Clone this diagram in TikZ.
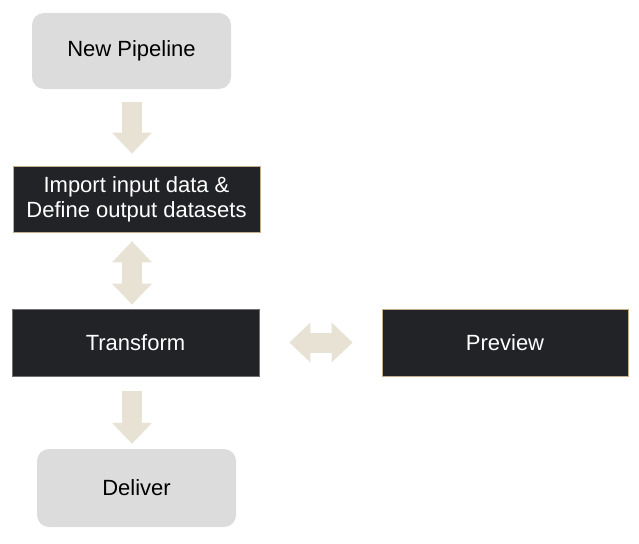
\documentclass[tikz,border=0pt]{standalone}
\usepackage{fontspec}
\setmainfont{Liberation Sans}
\usetikzlibrary{arrows.meta,positioning}
\definecolor{stepgray}{HTML}{DCDCDC}
\definecolor{darkbox}{HTML}{222327}
\definecolor{tanline}{HTML}{C8AD8A}
\definecolor{edgegray}{HTML}{707070}
\definecolor{flowbeige}{HTML}{E8E2D4}

\tikzset{
  endbox/.style={fill=stepgray, rounded corners=12pt, inner sep=0pt,
    font=\fontsize{22}{25}\selectfont, text=black},
  darkstep/.style={fill=darkbox, draw=tanline, line width=0.8pt, inner sep=0pt,
    font=\fontsize{22}{25}\selectfont, text=white, align=center},
  flow/.style={draw=flowbeige, line width=20pt},
  head/.tip={Triangle[width=40pt,length=21pt,line width=0pt]}
}

\begin{document}
\begin{tikzpicture}[x=1pt, y=-1pt]
  \useasboundingbox (0,0) rectangle (639,543);

  % boxes
  \node[endbox, minimum width=199pt, minimum height=76pt] (pipe) at (131.5,51) {New Pipeline};
  \node[darkstep, minimum width=247pt, minimum height=66pt] (import) at (136.5,199)
    {Import input data \&\\Define output datasets};
  \node[darkstep, draw=edgegray, minimum width=247pt, minimum height=67pt] (transform) at (135.5,342.5) {Transform};
  \node[darkstep, minimum width=246pt, minimum height=67pt] (preview) at (505,342.5) {Preview};
  \node[endbox, minimum width=199pt, minimum height=78pt] (deliver) at (136.5,488) {Deliver};

  % arrows
  \coordinate (axis) at (132,0);
  \draw[flow, -head, shorten <=13pt, shorten >=12pt] (pipe.south -| axis) -- (import.north -| axis);
  \draw[flow, head-head, shorten <=9pt, shorten >=4pt] (import.south -| axis) -- (transform.north -| axis);
  \draw[flow, head-head, shorten <=30pt, shorten >=29pt] (transform.east) -- (preview.west);
  \draw[flow, -head, shorten <=15pt, shorten >=5pt] (transform.south -| axis) -- (deliver.north -| axis);
\end{tikzpicture}
\end{document}
